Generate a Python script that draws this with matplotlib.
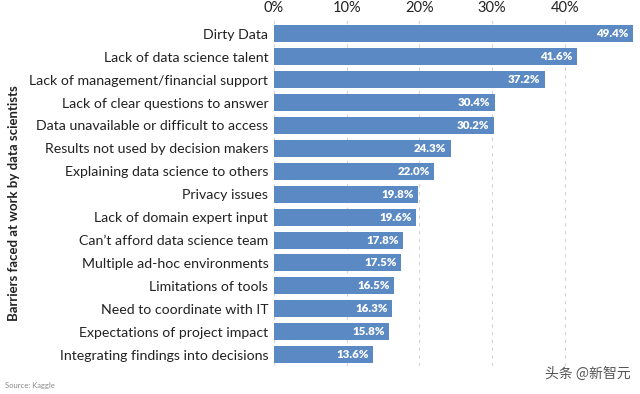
import matplotlib
matplotlib.use('Agg')
from matplotlib import pyplot as plt

barriers = ['Dirty Data', 'Lack of data science talent', 'Lack of management/financial support',
            'Lack of clear questions to answer', 'Data unavailable or difficult to access',
            'Results not used by decision makers', 'Explaining data science to others',
            'Privacy issues', 'Lack of domain expert input', 'Can\u2019t afford data science team',
            'Multiple ad-hoc environments', 'Limitations of tools', 'Need to coordinate with IT',
            'Expectations of project impact', 'Integrating findings into decisions']
percent = [49.4, 41.6, 37.2, 30.4, 30.2, 24.3, 22.0, 19.8, 19.6, 17.8, 17.5, 16.5, 16.3, 15.8, 13.6]
xticks = [0, 10, 20, 30, 40]

plt.rcParams['font.family'] = ['Lato', 'DejaVu Sans']
fig = plt.figure(figsize=(6.4, 3.94), dpi=100)
ax = fig.add_axes([0.428, 0.071, 0.566, 0.878])

pos = list(range(len(barriers)))
ax.barh(pos, percent, height=0.74, color='#5b89c4', zorder=2)
for p, v in zip(pos, percent):
    ax.text(v - 0.6, p, f'{v:.1f}%', ha='right', va='center', color='white',
            fontsize=8.3, fontweight='heavy')

ax.set_ylim(len(barriers) - 0.5, -0.6)
ax.set_xlim(0, 49.8)
ax.set_yticks(pos)
ax.set_yticklabels(barriers, fontsize=10.2, color='#222222')
ax.set_xticks(xticks)
ax.set_xticklabels([f'{t}%' for t in xticks], fontsize=10.5, color='#222222')
ax.xaxis.tick_top()
ax.tick_params(length=0, pad=4)
ax.grid(axis='x', linestyle=(0, (3, 4)), color='#d4d4d4', linewidth=0.8, zorder=0)
for s in ax.spines.values():
    s.set_visible(False)

fig.text(0.022, 0.485, 'Barriers faced at work by data scientists', rotation=90,
         ha='center', va='center', fontsize=9.5, fontweight='bold', color='#222222')
fig.text(0.008, 0.015, 'Source: Kaggle', fontsize=5.5, color='#888888')
fig.text(0.985, 0.04, '头条 @新智元', fontsize=10, color='#555555', ha='right',
         family=['Noto Sans CJK SC', 'DejaVu Sans'])

fig.savefig('out.png', dpi=100)
